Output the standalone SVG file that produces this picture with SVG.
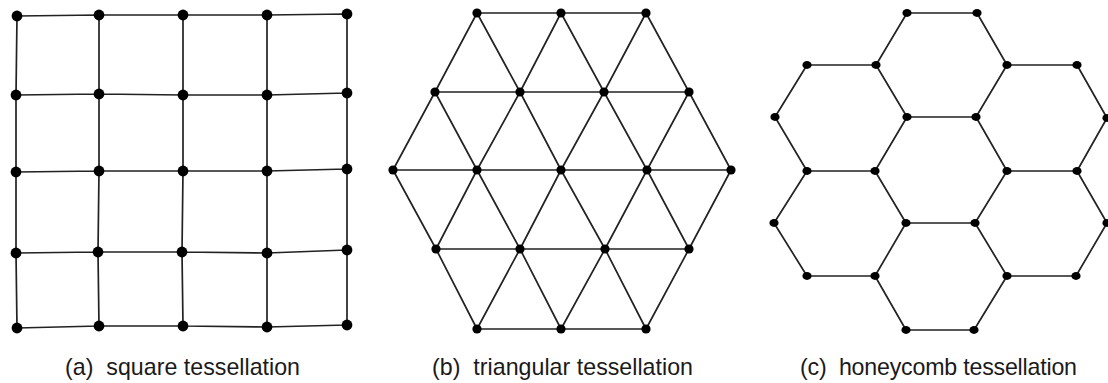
<svg xmlns="http://www.w3.org/2000/svg" width="1108" height="383" viewBox="0 0 1108 383">
<style>
.e{fill:none;stroke:#222;stroke-width:1.7;stroke-linejoin:round}
.sq{fill:#000}
.tr{fill:#000}
.hc{fill:#000}
.cap{font-family:"Liberation Sans",Arial,sans-serif;font-size:23.2px;fill:#1a1a1a}
</style>
<rect width="1108" height="383" fill="#fff"/>
<g id="connectors">
<!-- square grid -->
<path class="e" d="M17,16 L99,15 L183,15 L267,15 L347,14 M16,95 L99,94 L183,95 L267,95 L347,93 M16,172 L99,171 L183,171 L267,171 L347,169 M16,253 L98,252 L182,252 L267,253 L347,250 M17,328 L99,326 L183,326 L267,327 L347,325 M17,16 L16,95 L16,172 L16,253 L17,328 M99,15 L99,94 L99,171 L98,252 L99,326 M183,15 L183,95 L183,171 L182,252 L183,326 M267,15 L267,95 L267,171 L267,253 L267,327 M347,14 L347,93 L347,169 L347,250 L347,325"/>
<!-- triangular -->
<path class="e" d="M477,13 L561,13 L646,13 M435,92 L520,92 L604,92 L689,92 M393,170 L477,170 L561,170 L647,170 L731,170 M436,249 L520,249 L605,249 L689,249 M477,329 L561,329 L646,329
M435,92 L477,13 L520,92 L561,13 L604,92 L646,13 L689,92
M393,170 L435,92 L477,170 L520,92 L561,170 L604,92 L647,170 L689,92 L731,170
M393,170 L436,249 L477,170 L520,249 L561,170 L605,249 L647,170 L689,249 L731,170
M436,249 L477,329 L520,249 L561,329 L605,249 L646,329 L689,249"/>
<!-- honeycomb -->
<path class="e" d="M907,13 L977,13 L1007,65 L976,117 L907,117 L876,65 Z
M876,65 L807,65 L775,117 L807,171 L875,171 L907,117
M1007,65 L1077,65 L1107,118 L1077,171 L1007,171 L976,117
M1007,171 L975,223 L906,223 L875,171
M807,171 L774,223 L807,276 L875,276 L906,223
M1077,171 L1107,223 L1076,276 L1007,276 L975,223
M875,276 L906,330 L974,330 L1007,276"/>
</g>
<g id="square-nodes" class="sq">
<g id="s00"><circle cx="17" cy="16" r="5.4"/></g>
<g id="s01"><circle cx="99" cy="15" r="5.4"/></g>
<g id="s02"><circle cx="183" cy="15" r="5.4"/></g>
<g id="s03"><circle cx="267" cy="15" r="5.4"/></g>
<g id="s04"><circle cx="347" cy="14" r="5.4"/></g>
<g id="s10"><circle cx="16" cy="95" r="5.4"/></g>
<g id="s11"><circle cx="99" cy="94" r="5.4"/></g>
<g id="s12"><circle cx="183" cy="95" r="5.4"/></g>
<g id="s13"><circle cx="267" cy="95" r="5.4"/></g>
<g id="s14"><circle cx="347" cy="93" r="5.4"/></g>
<g id="s20"><circle cx="16" cy="172" r="5.4"/></g>
<g id="s21"><circle cx="99" cy="171" r="5.4"/></g>
<g id="s22"><circle cx="183" cy="171" r="5.4"/></g>
<g id="s23"><circle cx="267" cy="171" r="5.4"/></g>
<g id="s24"><circle cx="347" cy="169" r="5.4"/></g>
<g id="s30"><circle cx="16" cy="253" r="5.4"/></g>
<g id="s31"><circle cx="98" cy="252" r="5.4"/></g>
<g id="s32"><circle cx="182" cy="252" r="5.4"/></g>
<g id="s33"><circle cx="267" cy="253" r="5.4"/></g>
<g id="s34"><circle cx="347" cy="250" r="5.4"/></g>
<g id="s40"><circle cx="17" cy="328" r="5.4"/></g>
<g id="s41"><circle cx="99" cy="326" r="5.4"/></g>
<g id="s42"><circle cx="183" cy="326" r="5.4"/></g>
<g id="s43"><circle cx="267" cy="327" r="5.4"/></g>
<g id="s44"><circle cx="347" cy="325" r="5.4"/></g>
</g>
<g id="triangular-nodes" class="tr">
<g id="tA0"><circle cx="477" cy="13" r="4.6"/></g>
<g id="tA1"><circle cx="561" cy="13" r="4.6"/></g>
<g id="tA2"><circle cx="646" cy="13" r="4.6"/></g>
<g id="tB0"><circle cx="435" cy="92" r="4.6"/></g>
<g id="tB1"><circle cx="520" cy="92" r="4.6"/></g>
<g id="tB2"><circle cx="604" cy="92" r="4.6"/></g>
<g id="tB3"><circle cx="689" cy="92" r="4.6"/></g>
<g id="tC0"><circle cx="393" cy="170" r="4.6"/></g>
<g id="tC1"><circle cx="477" cy="170" r="4.6"/></g>
<g id="tC2"><circle cx="561" cy="170" r="4.6"/></g>
<g id="tC3"><circle cx="647" cy="170" r="4.6"/></g>
<g id="tC4"><circle cx="731" cy="170" r="4.6"/></g>
<g id="tD0"><circle cx="436" cy="249" r="4.6"/></g>
<g id="tD1"><circle cx="520" cy="249" r="4.6"/></g>
<g id="tD2"><circle cx="605" cy="249" r="4.6"/></g>
<g id="tD3"><circle cx="689" cy="249" r="4.6"/></g>
<g id="tE0"><circle cx="477" cy="329" r="4.6"/></g>
<g id="tE1"><circle cx="561" cy="329" r="4.6"/></g>
<g id="tE2"><circle cx="646" cy="329" r="4.6"/></g>
</g>
<g id="honeycomb-nodes" class="hc">
<g id="h1"><ellipse cx="907" cy="13" rx="4.6" ry="3.9"/></g>
<g id="h2"><ellipse cx="977" cy="13" rx="4.6" ry="3.9"/></g>
<g id="h3"><ellipse cx="807" cy="65" rx="4.6" ry="3.9"/></g>
<g id="h4"><ellipse cx="876" cy="65" rx="4.6" ry="3.9"/></g>
<g id="h5"><ellipse cx="1007" cy="65" rx="4.6" ry="3.9"/></g>
<g id="h6"><ellipse cx="1077" cy="65" rx="4.6" ry="3.9"/></g>
<g id="h7"><ellipse cx="775" cy="117" rx="4.6" ry="3.9"/></g>
<g id="h8"><ellipse cx="907" cy="117" rx="4.6" ry="3.9"/></g>
<g id="h9"><ellipse cx="976" cy="117" rx="4.6" ry="3.9"/></g>
<g id="h10"><ellipse cx="1107" cy="118" rx="4.6" ry="3.9"/></g>
<g id="h11"><ellipse cx="807" cy="171" rx="4.6" ry="3.9"/></g>
<g id="h12"><ellipse cx="875" cy="171" rx="4.6" ry="3.9"/></g>
<g id="h13"><ellipse cx="1007" cy="171" rx="4.6" ry="3.9"/></g>
<g id="h14"><ellipse cx="1077" cy="171" rx="4.6" ry="3.9"/></g>
<g id="h15"><ellipse cx="774" cy="223" rx="4.6" ry="3.9"/></g>
<g id="h16"><ellipse cx="906" cy="223" rx="4.6" ry="3.9"/></g>
<g id="h17"><ellipse cx="975" cy="223" rx="4.6" ry="3.9"/></g>
<g id="h18"><ellipse cx="1107" cy="223" rx="4.6" ry="3.9"/></g>
<g id="h19"><ellipse cx="807" cy="276" rx="4.6" ry="3.9"/></g>
<g id="h20"><ellipse cx="875" cy="276" rx="4.6" ry="3.9"/></g>
<g id="h21"><ellipse cx="1007" cy="276" rx="4.6" ry="3.9"/></g>
<g id="h22"><ellipse cx="1076" cy="276" rx="4.6" ry="3.9"/></g>
<g id="h23"><ellipse cx="906" cy="330" rx="4.6" ry="3.9"/></g>
<g id="h24"><ellipse cx="974" cy="330" rx="4.6" ry="3.9"/></g>
</g>
<g id="captions" class="cap">
<text x="65" y="375" xml:space="preserve" textLength="235" lengthAdjust="spacing">(a)  square tessellation</text>
<text x="432" y="375" xml:space="preserve" textLength="261" lengthAdjust="spacing">(b)  triangular tessellation</text>
<text x="800" y="375" xml:space="preserve" textLength="277" lengthAdjust="spacing">(c)  honeycomb tessellation</text>
</g>
</svg>
